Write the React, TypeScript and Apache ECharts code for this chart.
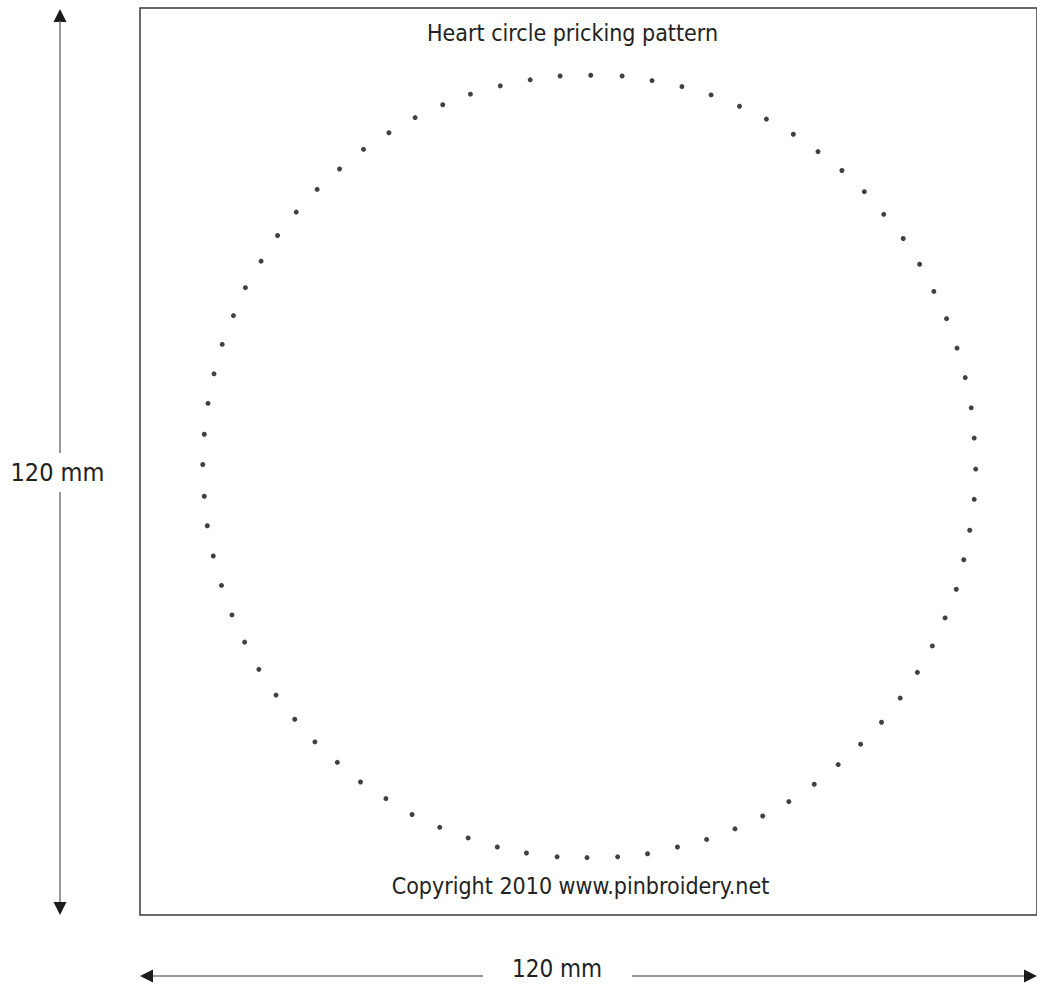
import React, { useEffect, useRef } from "react";
import * as echarts from "echarts";

// Pricking holes, in millimetres on a 120 x 120 mm sheet (origin bottom-left)
const DOT_X = [
  60.3, 56.2, 52.2, 48.2, 44.2, 40.5, 36.8, 33.3, 29.9, 26.7,
  23.7, 20.9, 18.4, 16.2, 14.1, 12.5, 11.0, 9.9, 9.1, 8.6,
  8.4, 8.6, 9.0, 9.8, 10.9, 12.3, 14.0, 15.9, 18.2, 20.7,
  23.4, 26.4, 29.5, 32.9, 36.4, 40.1, 43.9, 47.8, 51.7, 55.8,
  59.8, 63.9, 67.9, 71.9, 75.8, 79.6, 83.3, 86.8, 90.2, 93.4,
  96.4, 99.2, 101.7, 104.0, 106.0, 107.7, 109.2, 110.2, 111.0, 111.6,
  111.8, 111.6, 111.2, 110.4, 109.3, 107.9, 106.2, 104.3, 102.1, 99.5,
  96.9, 93.9, 90.7, 87.4, 83.8, 80.2, 76.4, 72.5, 68.5, 64.5,
];
const DOT_Y = [
  111.1, 111.0, 110.5, 109.7, 108.6, 107.2, 105.5, 103.5, 101.3, 98.7,
  96.0, 93.0, 89.9, 86.5, 83.0, 79.3, 75.5, 71.6, 67.7, 63.6,
  59.6, 55.4, 51.5, 47.5, 43.6, 39.7, 36.1, 32.5, 29.1, 25.9,
  22.9, 20.2, 17.6, 15.4, 13.3, 11.6, 10.2, 9.0, 8.2, 7.7,
  7.6, 7.7, 8.1, 9.0, 10.0, 11.4, 13.1, 15.0, 17.3, 19.9,
  22.6, 25.5, 28.7, 32.1, 35.6, 39.3, 43.1, 47.0, 50.9, 55.0,
  59.0, 63.1, 67.1, 71.1, 75.0, 78.9, 82.5, 86.1, 89.5, 92.7,
  95.7, 98.5, 101.0, 103.3, 105.3, 107.0, 108.5, 109.6, 110.4, 111.0,
];

const SHEET_MM = [0, 120];
const TITLE = "Heart circle pricking pattern";
const COPYRIGHT = "Copyright 2010 www.pinbroidery.net";
const DIM_LABEL = "120 mm";

const FONT = '"DejaVu Sans Condensed", "DejaVu Sans", sans-serif';

export default function App() {
  const ref = useRef<HTMLDivElement>(null);

  useEffect(() => {
    if (!ref.current) return;
    const chart = echarts.init(ref.current, null, { renderer: "svg" });
    chart.setOption({
      animation: false,
      backgroundColor: "#ffffff",
      grid: {
        left: 140,
        top: 8,
        width: 907,
        height: 907,
        show: true,
        borderColor: "#3a3a3a",
        borderWidth: 1.5,
        backgroundColor: "transparent",
      },
      xAxis: {
        type: "value",
        min: SHEET_MM[0],
        max: SHEET_MM[1],
        show: false,
      },
      yAxis: {
        type: "value",
        min: SHEET_MM[0],
        max: SHEET_MM[1],
        show: false,
      },
      series: [
        {
          type: "scatter",
          data: DOT_X.map((x, i) => [x, DOT_Y[i]]),
          symbol: "circle",
          symbolSize: 5,
          itemStyle: { color: "#111111" },
          silent: true,
        },
      ],
    });

    const p0 = chart.convertToPixel({ gridIndex: 0 }, [SHEET_MM[0], SHEET_MM[0]]) as number[];
    const p1 = chart.convertToPixel({ gridIndex: 0 }, [SHEET_MM[1], SHEET_MM[1]]) as number[];
    const left = p0[0];
    const bottom = p0[1];
    const right = p1[0];
    const top = p1[1];

    const ax = 60; // vertical dimension arrow x
    const ay = 976; // horizontal dimension arrow y
    const head = 13;
    const half = 6.5;
    const lineStyle = { stroke: "#777777", lineWidth: 1.5 };
    const headStyle = { fill: "#1c1c1c" };
    const vLabelY = 472;
    const hLabelX = 557;

    const txt = (text: string, x: number, y: number, size: number) => ({
      type: "text",
      style: {
        text,
        x,
        y,
        fill: "#222222",
        fontSize: size,
        fontFamily: FONT,
        textAlign: "center",
        textVerticalAlign: "middle",
        align: "center",
        verticalAlign: "middle",
      },
      silent: true,
    });

    chart.setOption({
      graphic: [
        // vertical dimension arrow
        {
          type: "polygon",
          shape: { points: [[ax, top + 1], [ax - half, top + 1 + head], [ax + half, top + 1 + head]] },
          style: headStyle,
        },
        { type: "line", shape: { x1: ax, y1: top + head, x2: ax, y2: vLabelY - 19 }, style: lineStyle },
        { type: "line", shape: { x1: ax, y1: vLabelY + 20, x2: ax, y2: bottom - head }, style: lineStyle },
        {
          type: "polygon",
          shape: { points: [[ax, bottom], [ax - half, bottom - head], [ax + half, bottom - head]] },
          style: headStyle,
        },
        txt(DIM_LABEL, 57.5, vLabelY, 25),
        // horizontal dimension arrow
        {
          type: "polygon",
          shape: { points: [[left, ay], [left + head, ay - half], [left + head, ay + half]] },
          style: headStyle,
        },
        { type: "line", shape: { x1: left + head, y1: ay, x2: hLabelX - 74, y2: ay }, style: lineStyle },
        { type: "line", shape: { x1: hLabelX + 75, y1: ay, x2: right - head, y2: ay }, style: lineStyle },
        {
          type: "polygon",
          shape: { points: [[right, ay], [right - head, ay - half], [right - head, ay + half]] },
          style: headStyle,
        },
        txt(DIM_LABEL, hLabelX, ay - 7, 24),
        // sheet texts
        txt(TITLE, 572.5, 33, 23),
        txt(COPYRIGHT, 580.5, 886, 23),
      ],
    });

    return () => chart.dispose();
  }, []);

  return (
    <div
      ref={ref}
      style={{ position: "absolute", left: 0, top: 0, width: 1037, height: 985 }}
    />
  );
}
